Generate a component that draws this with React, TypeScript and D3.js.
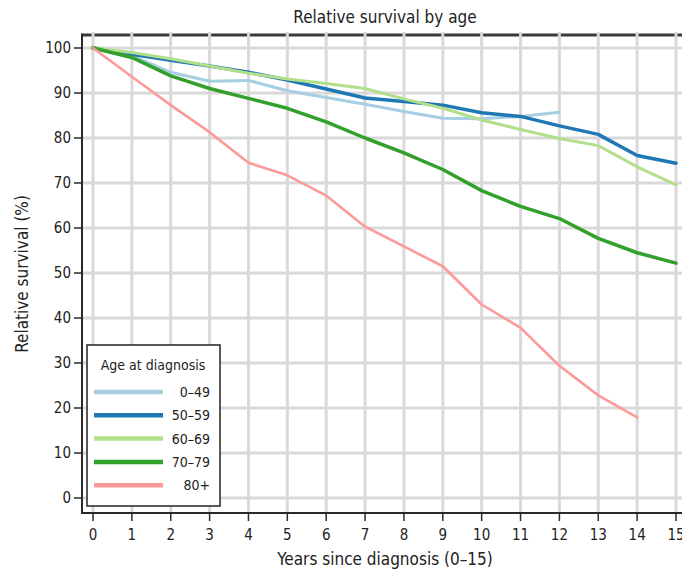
import React from "react";
import * as d3 from "d3";

const years = [0, 1, 2, 3, 4, 5, 6, 7, 8, 9, 10, 11, 12, 13, 14, 15];
const yTicks = [0, 10, 20, 30, 40, 50, 60, 70, 80, 90, 100];

const age0to49 = [100, 98.3, 94.6, 92.6, 92.8, 90.5, 89.0, 87.5, 85.9, 84.4, 84.3, 84.8, 85.7];
const age50to59 = [100, 98.6, 97.3, 96.0, 94.6, 92.9, 90.9, 88.9, 88.1, 87.3, 85.6, 84.8, 82.7, 80.8, 76.1, 74.4];
const age60to69 = [100, 99.0, 97.6, 96.0, 94.4, 93.1, 92.1, 91.0, 88.7, 86.6, 84.0, 81.9, 79.9, 78.3, 73.6, 69.6];
const age70to79 = [100, 97.9, 93.8, 91.0, 88.8, 86.6, 83.6, 80.0, 76.7, 73.0, 68.3, 64.8, 62.1, 57.7, 54.5, 52.2];
const age80plus = [100, 93.6, 87.3, 81.3, 74.5, 71.7, 67.2, 60.3, 55.9, 51.5, 43.0, 37.8, 29.4, 22.8, 17.9];

const seriesNames = ["0–49", "50–59", "60–69", "70–79", "80+"];
const seriesValues = [age0to49, age50to59, age60to69, age70to79, age80plus];
const seriesColors = ["#a6cee3", "#1f78b4", "#b2df8a", "#33a02c", "#fb9a99"];
const seriesWidths = [3, 3.5, 3, 3.5, 2.6];

const FONT = "'Liberation Sans Narrow', 'DejaVu Sans Condensed', 'Arial Narrow', sans-serif";

export default function App() {
  const x = d3.scaleLinear().domain([0, 15]).range([93, 676]);
  const y = d3.scaleLinear().domain([0, 100]).range([498, 48]);
  const axisLeftX = 82;
  const axisBottomY = 513;
  const topY = 35;
  const rightX = 682;

  const line = d3
    .line<number>()
    .x((_, i) => x(years[i]))
    .y((d) => y(d));

  return (
    <svg
      width={682}
      height={571}
      style={{ position: "absolute", left: 0, top: 0, background: "#fff" }}
      fontFamily={FONT}
    >
      <rect x={0} y={0} width={682} height={571} fill="#fff" />
      {/* top border */}
      <line x1={axisLeftX} x2={rightX} y1={topY} y2={topY} stroke="#3a3a3a" strokeWidth={3} />
      {/* grid */}
      {yTicks.map((t) => (
        <line key={"gy" + t} x1={axisLeftX} x2={rightX} y1={y(t)} y2={y(t)} stroke="#d9d9d9" strokeWidth={3} />
      ))}
      {years.map((t) => (
        <line key={"gx" + t} x1={x(t)} x2={x(t)} y1={topY - 3} y2={axisBottomY} stroke="#d9d9d9" strokeWidth={3} />
      ))}
      {/* axes */}
      <line x1={axisLeftX} x2={axisLeftX} y1={topY - 1.5} y2={axisBottomY + 1} stroke="#2a2a2a" strokeWidth={2} />
      <line x1={axisLeftX} x2={rightX} y1={axisBottomY} y2={axisBottomY} stroke="#2a2a2a" strokeWidth={2} />
      {yTicks.map((t) => (
        <g key={"ty" + t}>
          <line x1={axisLeftX - 8} x2={axisLeftX} y1={y(t)} y2={y(t)} stroke="#2a2a2a" strokeWidth={1.5} />
          <text x={axisLeftX - 11} y={y(t)} dy="0.35em" textAnchor="end" fontSize={15} fill="#222">
            {t}
          </text>
        </g>
      ))}
      {years.map((t) => (
        <g key={"tx" + t}>
          <line x1={x(t)} x2={x(t)} y1={axisBottomY} y2={axisBottomY + 8} stroke="#2a2a2a" strokeWidth={1.5} />
          <text x={x(t)} y={axisBottomY + 22} dy="0.35em" textAnchor="middle" fontSize={15} fill="#222">
            {t}
          </text>
        </g>
      ))}
      {/* lines */}
      {seriesValues.map((vals, i) => (
        <path
          key={"s" + i}
          d={line(vals) || ""}
          fill="none"
          stroke={seriesColors[i]}
          strokeWidth={seriesWidths[i]}
          strokeLinejoin="round"
          strokeLinecap="round"
        />
      ))}
      {/* titles */}
      <text x={385} y={17} dy="0.35em" textAnchor="middle" fontSize={17} fill="#222">
        Relative survival by age
      </text>
      <text x={385} y={559} dy="0.35em" textAnchor="middle" fontSize={17} fill="#222">
        Years since diagnosis (0–15)
      </text>
      <text
        transform={`translate(22,${(topY + axisBottomY) / 2}) rotate(-90)`}
        dy="0.35em"
        textAnchor="middle"
        fontSize={17}
        fill="#222"
      >
        Relative survival (%)
      </text>
      {/* legend */}
      <rect x={87} y={345} width={133} height={161} fill="#fff" stroke="#222" strokeWidth={1.5} />
      <text x={153} y={365} dy="0.35em" textAnchor="middle" fontSize={14} fill="#222">
        Age at diagnosis
      </text>
      {seriesNames.map((name, i) => {
        const ly = 392 + i * 23.3;
        return (
          <g key={"lg" + i}>
            <line x1={94} x2={163} y1={ly} y2={ly} stroke={seriesColors[i]} strokeWidth={4.5} />
            <text x={210} y={ly} dy="0.35em" textAnchor="end" fontSize={14} fill="#222">
              {name}
            </text>
          </g>
        );
      })}
    </svg>
  );
}
